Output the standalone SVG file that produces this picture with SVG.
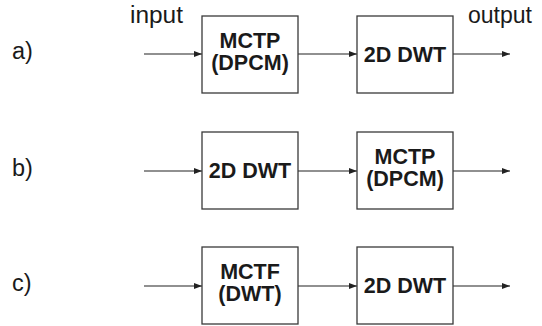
<svg xmlns="http://www.w3.org/2000/svg" width="542" height="326" viewBox="0 0 542 326">
<style>
.box{fill:#fff;stroke:#3a3a3a;stroke-width:1.3}
.ln{stroke:#222;stroke-width:1.2;fill:none}
.bt{font-family:"Liberation Sans",Arial,sans-serif;font-weight:bold;font-size:21.5px;fill:#1a1a1a;text-anchor:middle}
.lt{font-family:"Liberation Sans",Arial,sans-serif;font-size:23.5px;fill:#1a1a1a}
</style>
<defs>
<marker id="ah" markerWidth="8" markerHeight="6" refX="8" refY="3" orient="auto" markerUnits="userSpaceOnUse">
<path d="M0,0 L8,3 L0,6 Z" fill="#222"/>
</marker>
</defs>
<rect width="542" height="326" fill="#fff"/>
<g id="labels">
<text class="lt" x="12" y="59">a)</text>
<text class="lt" x="12" y="176">b)</text>
<text class="lt" x="12" y="291">c)</text>
<text class="lt" x="130" y="23" textLength="53" lengthAdjust="spacingAndGlyphs">input</text>
<text class="lt" x="468" y="23" textLength="64" lengthAdjust="spacingAndGlyphs">output</text>
</g>
<g id="connectors">
<line class="ln" x1="144" y1="54" x2="202" y2="54" marker-end="url(#ah)"/>
<line class="ln" x1="298" y1="54" x2="357" y2="54" marker-end="url(#ah)"/>
<line class="ln" x1="453" y1="54" x2="510" y2="54" marker-end="url(#ah)"/>
<line class="ln" x1="144" y1="171" x2="202" y2="171" marker-end="url(#ah)"/>
<line class="ln" x1="298" y1="171" x2="357" y2="171" marker-end="url(#ah)"/>
<line class="ln" x1="453" y1="171" x2="510" y2="171" marker-end="url(#ah)"/>
<line class="ln" x1="144" y1="286" x2="202" y2="286" marker-end="url(#ah)"/>
<line class="ln" x1="298" y1="286" x2="357" y2="286" marker-end="url(#ah)"/>
<line class="ln" x1="453" y1="286" x2="510" y2="286" marker-end="url(#ah)"/>
</g>
<g id="a-mctp">
<rect class="box" x="202" y="16" width="96" height="77"/>
<text class="bt" x="250" y="48">MCTP</text>
<text class="bt" x="250" y="70">(DPCM)</text>
</g>
<g id="a-dwt">
<rect class="box" x="357" y="16" width="96" height="77"/>
<text class="bt" x="405" y="62">2D DWT</text>
</g>
<g id="b-dwt">
<rect class="box" x="202" y="132" width="96" height="77"/>
<text class="bt" x="250" y="178">2D DWT</text>
</g>
<g id="b-mctp">
<rect class="box" x="357" y="132" width="96" height="77"/>
<text class="bt" x="405" y="164">MCTP</text>
<text class="bt" x="405" y="186">(DPCM)</text>
</g>
<g id="c-mctf">
<rect class="box" x="202" y="247" width="96" height="77"/>
<text class="bt" x="250" y="279">MCTF</text>
<text class="bt" x="250" y="301">(DWT)</text>
</g>
<g id="c-dwt">
<rect class="box" x="357" y="247" width="96" height="77"/>
<text class="bt" x="405" y="293">2D DWT</text>
</g>
</svg>
